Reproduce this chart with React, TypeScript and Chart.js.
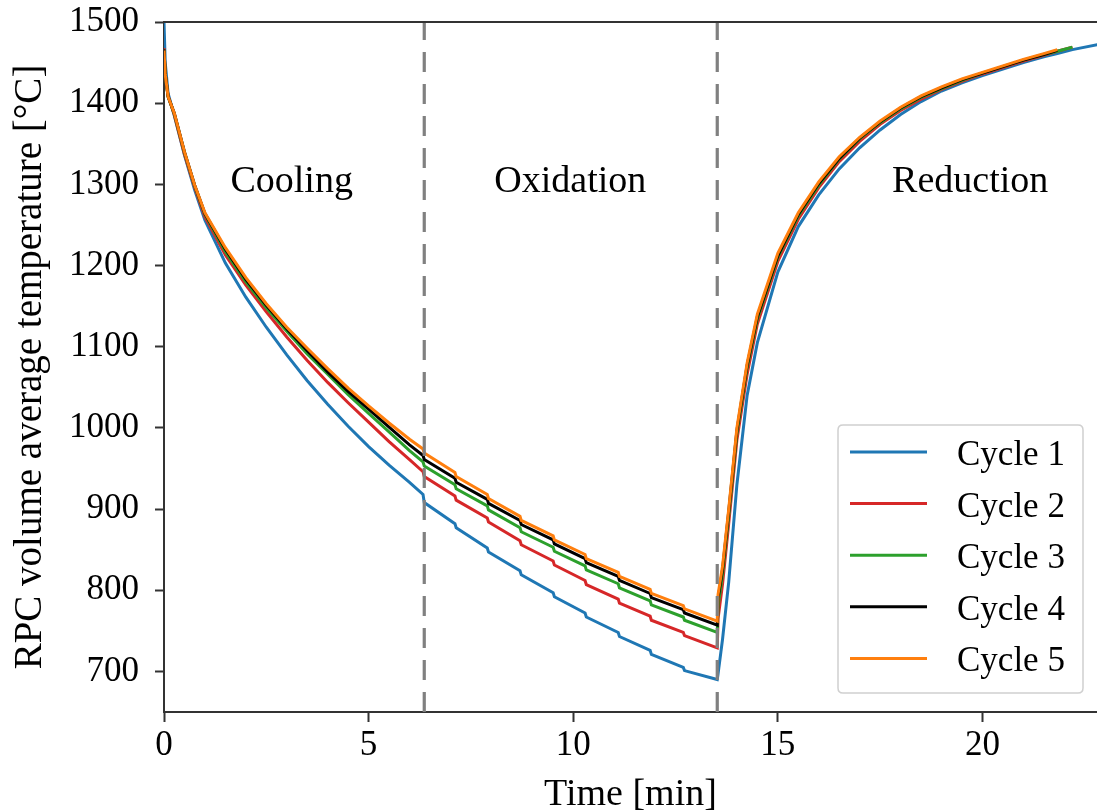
import React, { useEffect, useRef } from "react";
import { Chart, registerables } from "chart.js";

Chart.register(...registerables);

// ---- Data ----
const coolingTime = [0, 0.03, 0.1, 0.25, 0.5, 0.75, 1, 1.5, 2, 2.5, 3, 3.5, 4, 4.5, 5, 5.5, 6, 6.33];
const oxidationTime = [6.36, 7.11, 7.14, 7.9, 7.93, 8.7, 8.73, 9.51, 9.54, 10.29, 10.32, 11.1, 11.13, 11.88, 11.91, 12.69, 12.72, 13.52];
const reductionTime = [13.54, 13.65, 13.8, 14.0, 14.25, 14.5, 15, 15.5, 16, 16.5, 17, 17.5, 18, 18.5, 19, 19.5, 20, 20.5, 21, 21.5, 21.83, 22.2, 23];

const cycleLabels = ["Cycle 1", "Cycle 2", "Cycle 3", "Cycle 4", "Cycle 5"];
const cycleColors = ["#1f77b4", "#d62728", "#2ca02c", "#000000", "#ff7f0e"];

const cycle1Cooling = [1500, 1450, 1412, 1385, 1336, 1293, 1256, 1203, 1161, 1124, 1090, 1058, 1029, 1002, 977, 954, 933, 918];
const cycle1Oxidation = [908, 882, 877, 852, 847, 824, 819, 797, 792, 772, 767, 748, 743, 726, 721, 705, 701, 690];
const cycle1Reduction = [697, 740, 810, 930, 1040, 1105, 1192, 1248, 1287, 1319, 1345, 1367, 1386, 1402, 1415, 1425, 1434, 1442, 1450, 1457, 1461, 1466, 1474];

const cycle2Cooling = [1468, 1437, 1409, 1386, 1337, 1296, 1260, 1213, 1176, 1143, 1112, 1083, 1056, 1031, 1007, 983, 961, 946];
const cycle2Oxidation = [940, 916, 911, 889, 884, 861, 856, 836, 831, 812, 807, 789, 784, 768, 763, 748, 744, 729];
const cycle2Reduction = [765, 808, 882, 985, 1066, 1128, 1205, 1257, 1296, 1328, 1353, 1374, 1391, 1405, 1417, 1427, 1436, 1444, 1452, 1459, 1464, 1469];

const cycle3Cooling = [1466, 1436, 1408, 1387, 1339, 1298, 1263, 1217, 1180, 1148, 1119, 1091, 1066, 1041, 1018, 995, 972, 958];
const cycle3Oxidation = [953, 930, 925, 904, 899, 877, 872, 853, 848, 830, 825, 808, 803, 787, 782, 767, 763, 748];
const cycle3Reduction = [780, 820, 892, 993, 1074, 1134, 1210, 1261, 1299, 1331, 1356, 1376, 1393, 1407, 1418, 1428, 1437, 1445, 1453, 1460, 1464, 1469];

const cycle4Cooling = [1466, 1436, 1408, 1388, 1340, 1299, 1264, 1220, 1183, 1151, 1122, 1095, 1069, 1045, 1023, 1001, 979, 966];
const cycle4Oxidation = [961, 938, 933, 912, 907, 886, 881, 862, 857, 839, 834, 817, 812, 796, 791, 776, 772, 757];
const cycle4Reduction = [790, 826, 897, 997, 1077, 1137, 1212, 1263, 1301, 1332, 1357, 1377, 1394, 1408, 1419, 1429, 1437, 1445, 1453, 1460, 1465];

const cycle5Cooling = [1465, 1435, 1408, 1388, 1340, 1299, 1265, 1222, 1185, 1153, 1124, 1098, 1073, 1049, 1027, 1006, 986, 974];
const cycle5Oxidation = [969, 945, 940, 918, 913, 891, 886, 867, 862, 844, 839, 822, 817, 801, 796, 781, 777, 762];
const cycle5Reduction = [795, 830, 900, 1000, 1080, 1140, 1215, 1265, 1303, 1334, 1358, 1378, 1395, 1409, 1420, 1430, 1438, 1446, 1454, 1461, 1466];

const phaseBoundaries = [6.36, 13.52];
const phaseLabels = ["Cooling", "Oxidation", "Reduction"];
const phaseLabelX = [3.12, 9.93, 19.7];
const phaseLabelY = 1291;

const xTicks = [0, 5, 10, 15, 20];
const yTicks = [700, 800, 900, 1000, 1100, 1200, 1300, 1400, 1500];
const xMin = 0;
const xMax = 22.8;
const yMin = 650;
const yMax = 1500;

const xTitle = "Time [min]";
const yTitle = "RPC volume average temperature [°C]";

const cycles = [
  [cycle1Cooling, cycle1Oxidation, cycle1Reduction],
  [cycle2Cooling, cycle2Oxidation, cycle2Reduction],
  [cycle3Cooling, cycle3Oxidation, cycle3Reduction],
  [cycle4Cooling, cycle4Oxidation, cycle4Reduction],
  [cycle5Cooling, cycle5Oxidation, cycle5Reduction],
];

const FONT = "'Liberation Serif', 'Times New Roman', serif";
const AXIS_COLOR = "#333333";

function buildSeries(phases: number[][]) {
  const times = [coolingTime, oxidationTime, reductionTime];
  const pts: { x: number; y: number }[] = [];
  phases.forEach((vals, p) => {
    vals.forEach((v, k) => pts.push({ x: times[p][k], y: v }));
  });
  return pts;
}

const frameAndLabels = {
  id: "frameAndLabels",
  afterDatasetsDraw(chart: any) {
    const { ctx, chartArea, scales } = chart;
    ctx.save();
    // top spine
    ctx.strokeStyle = AXIS_COLOR;
    ctx.lineWidth = 2;
    ctx.beginPath();
    ctx.moveTo(chartArea.left - 1, chartArea.top);
    ctx.lineTo(chartArea.right, chartArea.top);
    ctx.stroke();
    // phase labels
    ctx.fillStyle = "#000";
    ctx.font = `38px ${FONT}`;
    ctx.textAlign = "center";
    ctx.textBaseline = "alphabetic";
    phaseLabels.forEach((t, i) => {
      ctx.fillText(t, scales.x.getPixelForValue(phaseLabelX[i]), scales.y.getPixelForValue(phaseLabelY));
    });
    ctx.restore();
  },
  afterDraw(chart: any) {
    const { ctx, chartArea } = chart;
    const w = 245;
    const h = 268;
    const x0 = chartArea.right - 14 - w;
    const y0 = chartArea.bottom - 19 - h;
    ctx.save();
    const r = 5;
    ctx.beginPath();
    ctx.moveTo(x0 + r, y0);
    ctx.lineTo(x0 + w - r, y0);
    ctx.quadraticCurveTo(x0 + w, y0, x0 + w, y0 + r);
    ctx.lineTo(x0 + w, y0 + h - r);
    ctx.quadraticCurveTo(x0 + w, y0 + h, x0 + w - r, y0 + h);
    ctx.lineTo(x0 + r, y0 + h);
    ctx.quadraticCurveTo(x0, y0 + h, x0, y0 + h - r);
    ctx.lineTo(x0, y0 + r);
    ctx.quadraticCurveTo(x0, y0, x0 + r, y0);
    ctx.closePath();
    ctx.fillStyle = "rgba(255,255,255,0.85)";
    ctx.fill();
    ctx.strokeStyle = "#d0d0d0";
    ctx.lineWidth = 1.5;
    ctx.stroke();
    ctx.font = `35px ${FONT}`;
    ctx.textAlign = "left";
    ctx.textBaseline = "alphabetic";
    cycleLabels.forEach((lab, i) => {
      const y = y0 + 27 + i * 51.6;
      ctx.strokeStyle = cycleColors[i];
      ctx.lineWidth = 3;
      ctx.beginPath();
      ctx.moveTo(x0 + 12, y);
      ctx.lineTo(x0 + 89, y);
      ctx.stroke();
      ctx.fillStyle = "#000";
      ctx.fillText(lab, x0 + 119, y + 13);
    });
    ctx.restore();
  },
};

export default function App() {
  const ref = useRef<HTMLCanvasElement>(null);
  useEffect(() => {
    const canvas = ref.current;
    if (!canvas) return;
    const datasets: any[] = cycles.map((c, i) => ({
      label: cycleLabels[i],
      data: buildSeries(c),
      borderColor: cycleColors[i],
      backgroundColor: cycleColors[i],
      borderWidth: 3,
      pointRadius: 0,
      tension: 0,
      fill: false,
      order: 10 - i,
    }));
    phaseBoundaries.forEach((b) =>
      datasets.push({
        label: "",
        data: [
          { x: b, y: yMin },
          { x: b, y: yMax },
        ],
        borderColor: "#808080",
        borderWidth: 3.2,
        borderDash: [20, 12],
        pointRadius: 0,
        fill: false,
        order: 0,
      })
    );
    Chart.defaults.font.family = FONT;
    const chart = new Chart(canvas, {
      type: "line",
      data: { datasets },
      options: {
        animation: false,
        responsive: false,
        devicePixelRatio: 1,
        layout: { padding: { top: 22, right: 0, left: 0, bottom: 0 } },
        plugins: { legend: { display: false }, tooltip: { enabled: false } },
        scales: {
          x: {
            type: "linear",
            min: xMin,
            max: xMax,
            afterBuildTicks: (s: any) => {
              s.ticks = xTicks.map((v) => ({ value: v }));
            },
            afterFit: (s: any) => {
              s.height = 100;
              s.paddingLeft = 0;
              s.paddingRight = 0;
            },
            ticks: {
              color: "#000",
              font: { size: 35, family: FONT },
              padding: 3,
              maxRotation: 0,
              callback: (v: any) => String(v),
            },
            grid: { drawOnChartArea: false, drawTicks: true, tickLength: 10, tickColor: AXIS_COLOR, tickWidth: 2 },
            border: { display: true, color: AXIS_COLOR, width: 2 },
            title: {
              display: true,
              text: xTitle,
              color: "#000",
              font: { size: 38, family: FONT, lineHeight: 1 },
              padding: { top: 0, bottom: -2.5 },
            },
          },
          y: {
            type: "linear",
            min: yMin,
            max: yMax,
            afterBuildTicks: (s: any) => {
              s.ticks = yTicks.map((v) => ({ value: v }));
            },
            afterFit: (s: any) => {
              s.width = 164;
              s.paddingTop = 0;
              s.paddingBottom = 0;
            },
            ticks: {
              color: "#000",
              font: { size: 35, family: FONT },
              padding: 16,
              callback: (v: any) => String(v),
            },
            grid: { drawOnChartArea: false, drawTicks: true, tickLength: 9, tickColor: AXIS_COLOR, tickWidth: 2 },
            border: { display: true, color: AXIS_COLOR, width: 2 },
            title: {
              display: true,
              text: yTitle,
              color: "#000",
              font: { size: 39, family: FONT, lineHeight: 1 },
              padding: { top: 11, bottom: 0 },
            },
          },
        },
      },
      plugins: [frameAndLabels],
    });
    return () => chart.destroy();
  }, []);
  return (
    <div style={{ position: "fixed", left: 0, top: 0, width: 1097, height: 812, background: "#fff" }}>
      <canvas ref={ref} width={1097} height={812} style={{ display: "block", width: 1097, height: 812 }} />
    </div>
  );
}
